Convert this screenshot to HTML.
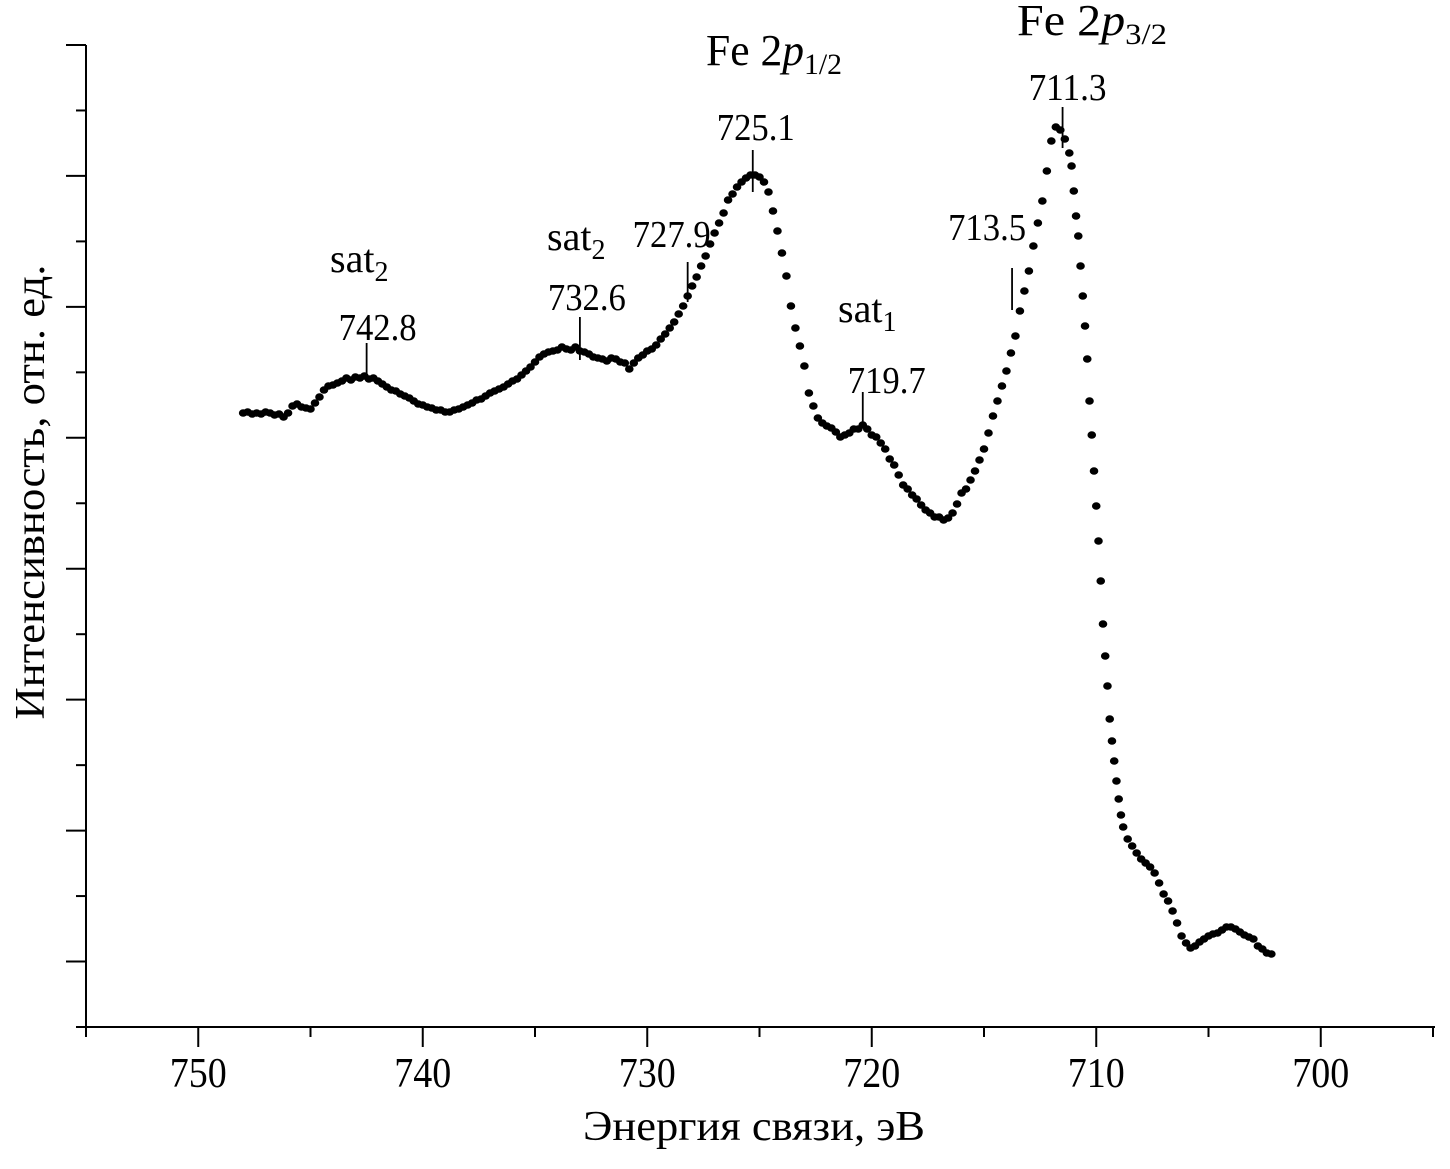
<!DOCTYPE html>
<html><head><meta charset="utf-8"><style>
html,body{margin:0;padding:0;background:#fff}
svg{display:block}
text{font-family:"Liberation Serif","DejaVu Serif",serif;fill:#000}
</style></head><body>
<svg id="chart" width="1450" height="1169" viewBox="0 0 1450 1169" xmlns="http://www.w3.org/2000/svg">
<g id="axes"></g>
<g id="series"></g>
<g id="annot">
  <text x="706" y="65" font-size="44" textLength="136" lengthAdjust="spacingAndGlyphs">Fe 2<tspan font-style="italic">p</tspan><tspan font-size="30" dy="9">1/2</tspan></text>
  <text x="1017" y="35" font-size="44" textLength="150" lengthAdjust="spacingAndGlyphs">Fe 2<tspan font-style="italic">p</tspan><tspan font-size="30" dy="9">3/2</tspan></text>
  <text x="330" y="272" font-size="40">sat<tspan font-size="28" dy="9">2</tspan></text>
  <text x="547" y="250" font-size="40">sat<tspan font-size="28" dy="9">2</tspan></text>
  <text x="838" y="322" font-size="40">sat<tspan font-size="28" dy="9">1</tspan></text>
</g>
</svg>
<script>
// Binding energies (eV) and intensities (arb. units)
const energies = [748.0,747.8,747.6,747.4,747.2,747.0,746.8,746.6,746.4,746.2,
746.0,745.8,745.6,745.4,745.2,745.0,744.8,744.6,744.4,744.2,
744.0,743.8,743.6,743.4,743.2,743.0,742.8,742.6,742.4,742.2,
742.0,741.8,741.6,741.4,741.2,741.0,740.8,740.6,740.4,740.2,
740.0,739.8,739.6,739.4,739.2,739.0,738.8,738.6,738.4,738.2,
738.0,737.8,737.6,737.4,737.2,737.0,736.8,736.6,736.4,736.2,
736.0,735.8,735.6,735.4,735.2,735.0,734.8,734.6,734.4,734.2,
734.0,733.8,733.6,733.4,733.2,733.0,732.8,732.6,732.4,732.2,
732.0,731.8,731.6,731.4,731.2,731.0,730.8,730.6,730.4,730.2,
730.0,729.8,729.6,729.4,729.2,729.0,728.8,728.6,728.4,728.2,
728.0,727.8,727.6,727.4,727.2,727.0,726.8,726.6,726.4,726.2,
726.0,725.8,725.6,725.4,725.2,725.0,724.8,724.6,724.4,724.2,
724.0,723.8,723.6,723.4,723.2,723.0,722.8,722.6,722.4,722.2,
722.0,721.8,721.6,721.4,721.2,721.0,720.8,720.6,720.4,720.2,
720.0,719.8,719.6,719.4,719.2,719.0,718.8,718.6,718.4,718.2,
718.0,717.8,717.6,717.4,717.2,717.0,716.8,716.6,716.4,716.2,
716.0,715.8,715.6,715.4,715.2,715.0,714.8,714.6,714.4,714.2,
714.0,713.8,713.6,713.4,713.2,713.0,712.8,712.6,712.4,712.2,
712.0,711.8,711.6,711.4,711.2,711.1,711.0,710.9,710.8,710.7,
710.6,710.5,710.4,710.3,710.2,710.1,710.0,709.9,709.8,709.7,
709.6,709.5,709.4,709.3,709.2,709.1,
709.0,708.9,708.8,708.6,708.4,708.2,708.0,707.8,707.6,707.4,
707.2,707.0,706.8,706.6,706.4,706.2,706.0,705.8,705.6,705.4,
705.2,705.0,704.8,704.6,704.4,704.2,704.0,703.8,703.6,703.4,
703.2,703.0,702.8,702.6,702.4,702.2];
const intensity = [614,615,613,614,613,615,614,612,613,610,
614,621,623,620,619,618,624,630,637,641,
642,644,646,649,647,650,649,651,648,649,
646,643,640,637,636,633,631,629,626,623,
622,620,619,617,617,615,615,617,618,620,
622,624,627,628,631,634,636,638,640,643,
646,648,652,656,660,665,670,673,675,676,
677,680,678,677,680,676,675,673,670,669,
668,666,669,668,665,664,658,664,669,672,
676,678,682,688,693,699,705,713,721,731,
741,750,761,771,783,794,804,814,827,833,
840,845,849,852,852,850,845,835,816,796,
774,751,721,699,681,661,634,621,609,604,
601,599,595,590,592,594,598,598,602,598,
592,590,584,578,568,562,552,542,538,532,
528,522,517,514,510,510,507,509,514,523,
534,538,547,556,567,578,594,611,626,641,
656,674,691,716,736,756,781,804,826,856,
886,900,897,888,874,861,836,811,791,761,
731,701,668,626,592,556,521,486,446,403,
371,341,308,286,266,246,
228,212,200,188,181,174,168,164,160,154,
144,133,126,116,104,91,84,79,81,85,
88,91,93,94,97,100,100,98,95,92,
90,88,81,78,74,73];
const xTicks = [750,740,730,720,710,700];
const xTickLabels = ["750","740","730","720","710","700"];
const markerEnergies = [742.5,733.0,728.2,725.3,720.4,713.75,711.5];
const peakLabels = ["742.8","732.6","727.9","725.1","719.7","713.5","711.3"];

const NS = "http://www.w3.org/2000/svg";
const X0 = 86, X1 = 1435, YTOP = 45, YBOT = 1027;
const E_LEFT = 755, PX_PER_EV = 22.45;
const xScale = e => X0 + (E_LEFT - e) * PX_PER_EV;
const yScale = v => YBOT - v * (YBOT - YTOP) / 982;

function mk(tag, attrs, parent) {
  const el = document.createElementNS(NS, tag);
  for (const k in attrs) el.setAttribute(k, attrs[k]);
  parent.appendChild(el);
  return el;
}
const axes = document.getElementById('axes');
let el = mk('line', {x1: 76, y1: YBOT, x2: X1, y2: YBOT, stroke: '#000', 'stroke-width': 2}, axes);


el = mk('line', {x1: X0, y1: YTOP, x2: X0, y2: YBOT + 10, stroke: '#000', 'stroke-width': 2}, axes);



for (let e = 755; e >= 695; e -= 5) {
  const major = (e % 10 === 0);
  const x = xScale(e);
  el = mk('line', {x1: x, y1: YBOT, x2: x, y2: YBOT + (major ? 20 : 10), stroke: '#000', 'stroke-width': 2}, axes);
  
  
}
xTicks.forEach((t, i) => {
  el = mk('text', {x: xScale(t), y: 1087, 'font-size': 42, 'text-anchor': 'middle', textLength: 57, lengthAdjust: 'spacingAndGlyphs'}, axes);
  el.textContent = xTickLabels[i];
  
  
});
for (let k = 0; k <= 15; k++) {
  const y = YTOP + k * (YBOT - YTOP) / 15;
  const major = (k % 2 === 0);
  el = mk('line', {x1: major ? 66 : 76, y1: y, x2: X0, y2: y, stroke: '#000', 'stroke-width': 2}, axes);
  
  
}
el = mk('text', {x: 754, y: 1140, 'font-size': 42, 'text-anchor': 'middle', textLength: 342, lengthAdjust: 'spacingAndGlyphs'}, axes);
el.textContent = 'Энергия связи, эВ';


el = mk('text', {x: 0, y: 0, 'font-size': 42, 'text-anchor': 'middle', transform: 'translate(44,492) rotate(-90)', textLength: 455, lengthAdjust: 'spacingAndGlyphs'}, axes);
el.textContent = 'Интенсивность, отн. ед.';



const series = document.getElementById('series');
energies.forEach((e, i) => {
  const c = mk('ellipse', {cx: xScale(e), cy: yScale(intensity[i]), rx: 4.3, ry: 3.8, fill: '#000'}, series);
  
  
});

// peak markers (layout offsets relative to marker line)
const annot = document.getElementById('annot');
const lineTop = [343, 317, 262, 150, 392, 268, 107];
const lineBot = [380, 360, 302, 192, 428, 310, 148];
const labelDx = [11, 7, -16, 3, 24, -25, 5];
const labelBase = [340, 310, 247, 140, 393, 240, 100];
markerEnergies.forEach((p, i) => {
  const x = xScale(p);
  const ln = mk('line', {x1: x, y1: lineTop[i], x2: x, y2: lineBot[i], stroke: '#000', 'stroke-width': 1.8}, annot);
  
  
  const t = mk('text', {x: x + labelDx[i], y: labelBase[i], 'font-size': 38, 'text-anchor': 'middle', textLength: 78, lengthAdjust: 'spacingAndGlyphs'}, annot);
  t.textContent = peakLabels[i];
  
  
});
</script>
</body></html>
